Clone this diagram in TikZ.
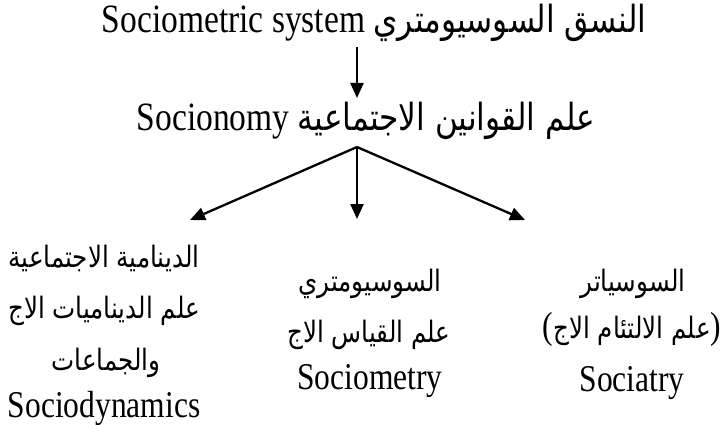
\documentclass[tikz,border=0pt]{standalone}
\usepackage{fontspec}
\setmainfont{Liberation Serif}
\newfontfamily\arabicfont[Script=Arabic,Scale=0.93]{DejaVu Sans}
\newfontfamily\arabicsmall[Script=Arabic,Scale=0.78]{DejaVu Sans}
\TeXXeTstate=1
\usetikzlibrary{arrows.meta}
\newcommand{\ar}[1]{{\arabicfont #1}}
\newcommand{\ars}[1]{{\arabicsmall #1}}
\newcommand{\vs}[1]{\scalebox{1}[1.2]{#1}}
\begin{document}
\begin{tikzpicture}[x=1pt,y=-1pt,
  bigtxt/.style={anchor=base,inner sep=0pt,font=\fontsize{33.5}{38}\selectfont},
  txt/.style={anchor=base,inner sep=0pt,font=\fontsize{31.5}{36}\selectfont},
  arr/.style={line width=2.3pt,-{Triangle[length=15pt,width=13pt]}}]
\useasboundingbox (0,0) rectangle (722,425);
\node[bigtxt] (top) at (374,33) {\vs{\beginR\ar{النسق السوسيومتري} \beginL Sociometric system\endL\endR}};
\node[bigtxt] (mid) at (366,130) {\vs{\beginR\ar{علم القوانين الاجتماعية} \beginL Socionomy\endL\endR}};
% left column
\node[txt] (l1) at (104,267) {\vs{\beginR\ars{الدينامية الاجتماعية}\endR}};
\node[txt] (l2) at (104,318) {\vs{\beginR\ars{علم الديناميات الاج}\endR}};
\node[txt] (l3) at (106,370) {\vs{\beginR\ars{والجماعات}\endR}};
\node[txt] (l4) at (104,417) {\vs{Sociodynamics}};
% middle column
\node[txt] (m1) at (370,291) {\vs{\beginR\ars{السوسيومتري}\endR}};
\node[txt] (m2) at (369,342) {\vs{\beginR\ars{علم القياس الاج}\endR}};
\node[txt] (m3) at (370,389) {\vs{Sociometry}};
% right column
\node[txt] (r1) at (633,291) {\vs{\beginR\ars{السوسياتر}\endR}};
\node[txt] (r2) at (632,338) {\vs{(\beginR\ars{علم الالتئام الاج}\endR)}};
\node[txt] (r3) at (632,391) {\vs{Sociatry}};
% arrows
\coordinate (s1) at (357,47);
\coordinate (e1) at (357,98);
\coordinate (apex) at (357,147);
\coordinate (tl) at (190,220);
\coordinate (tm) at (357,219);
\coordinate (tr) at (525,220);
\draw[arr] (s1) -- (e1);
\draw[arr] (apex) -- (tl);
\draw[arr] (apex) -- (tm);
\draw[arr] (apex) -- (tr);
\end{tikzpicture}
\end{document}
